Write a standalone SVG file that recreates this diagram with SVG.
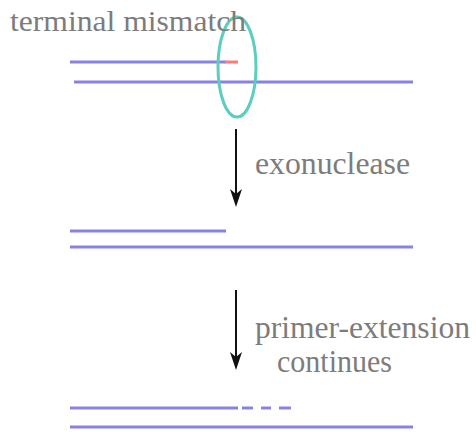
<svg xmlns="http://www.w3.org/2000/svg" width="476" height="432" viewBox="0 0 476 432">
<style>
.strand{stroke:#8a82e2;stroke-width:3;fill:none}
.lbl{font-family:"Liberation Serif","Times New Roman",serif;font-size:31px;fill:#7c7c7c}
.arr{stroke:#111;stroke-width:2;fill:none}
</style>
<rect width="476" height="432" fill="#fff"/>
<g id="stage1">
<line class="strand" x1="70" y1="62" x2="226" y2="62"/>
<line x1="225" y1="62" x2="238" y2="62" stroke="#ff7a7a" stroke-width="3"/>
<line class="strand" x1="74" y1="82" x2="413" y2="82"/>
</g>
<g id="mismatch">
<ellipse cx="237" cy="67" rx="19" ry="50" fill="none" stroke="#5ccdbf" stroke-width="3"/>
<text class="lbl" x="10" y="31" style="font-size:29px" textLength="236" lengthAdjust="spacingAndGlyphs">terminal mismatch</text>
</g>
<g id="stage2">
<line class="strand" x1="70" y1="231" x2="226" y2="231"/>
<line class="strand" x1="70" y1="247" x2="413" y2="247"/>
</g>
<g id="stage3">
<line class="strand" x1="70" y1="408" x2="238" y2="408"/>
<line class="strand" x1="242" y1="408" x2="253" y2="408"/>
<line class="strand" x1="261" y1="408" x2="271" y2="408"/>
<line class="strand" x1="279" y1="408" x2="291" y2="408"/>
<line class="strand" x1="70" y1="427" x2="413" y2="427"/>
</g>
<g id="connectors">
<g id="arrow1">
<line class="arr" x1="236" y1="129" x2="236" y2="196"/>
<path d="M230,189 L236,194 L242,189 L236,207 Z" fill="#111"/>
<text class="lbl" x="255" y="174" textLength="155" lengthAdjust="spacingAndGlyphs">exonuclease</text>
</g>
<g id="arrow2">
<line class="arr" x1="236" y1="290" x2="236" y2="360"/>
<path d="M230,352 L236,357 L242,352 L236,370 Z" fill="#111"/>
<text class="lbl" x="255" y="338" textLength="215" lengthAdjust="spacingAndGlyphs">primer-extension</text>
<text class="lbl" x="277" y="372" textLength="115" lengthAdjust="spacingAndGlyphs">continues</text>
</g>
</g>
</svg>
